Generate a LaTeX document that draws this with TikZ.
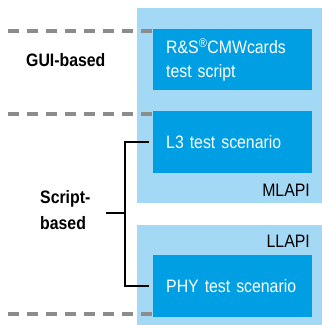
\documentclass[tikz,border=0pt]{standalone}
\usepackage{fontspec}
\setmainfont{Liberation Sans}[FakeStretch=0.88]
\usetikzlibrary{positioning}
\definecolor{paleblue}{HTML}{A3D9F5}
\definecolor{rsblue}{HTML}{009FE3}
\definecolor{dashgray}{HTML}{8C8C8C}

\begin{document}
\begin{tikzpicture}[x=1pt,y=-1pt,
  panel/.style={fill=paleblue,anchor=north west,inner sep=0pt,minimum width=185pt},
  box/.style={fill=rsblue,text=white,anchor=north west,minimum width=159pt,minimum height=62pt,
    text width=133pt,inner xsep=13pt,align=left,font=\fontsize{18}{24}\selectfont},
  tag/.style={font=\fontsize{18}{24}\selectfont,inner sep=0pt},
  side/.style={font=\bfseries\fontsize{18}{26}\selectfont,inner sep=0pt,align=left},
  sep/.style={dashgray,line width=4pt,dash pattern=on 11pt off 8pt},
  brace/.style={line width=2pt,line cap=rect}]
  \useasboundingbox (0,0) rectangle (322,325);
  % panels
  \node[panel,minimum height=195pt] (mlapi) at (137,8) {};
  \node[panel,minimum height=100pt] (llapi) at (137,225) {};
  % boxes
  \node[box,minimum height=61pt] (cmw) at (153,29) {R\&S\textsuperscript{®}CMWcards\\test script};
  \node[box] (l3) at (153,111) {L3 test scenario};
  \node[box] (phy) at (153,255) {PHY test scenario};
  \node[tag,anchor=east] (ml) at (310,190) {MLAPI};
  \node[tag,anchor=east] (ll) at (310,241) {LLAPI};
  % separators
  \draw[sep] (8,31) -- (152,31);
  \draw[sep] (8,114) -- (152,114);
  \draw[sep] (8,314) -- (152,314);
  % left labels
  \node[side,anchor=west] (gui) at (26,60) {GUI-based};
  \node[side,anchor=west] (script) at (40,210) {Script-\\based};
  \coordinate (stub) at (107,213);
  \coordinate (fork) at (125,213);
  \draw[brace] ([xshift=-5pt]l3.west) -| (fork) |- ([xshift=-5pt]phy.west);
  \draw[brace] (stub) -- (fork);
\end{tikzpicture}
\end{document}
